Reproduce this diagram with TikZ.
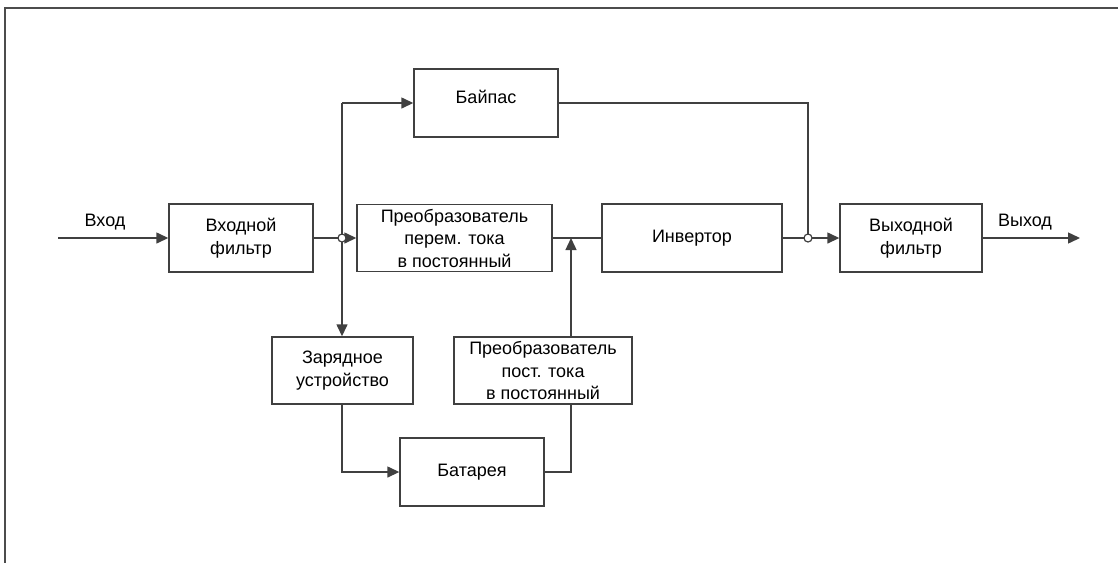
\documentclass[tikz,border=0pt]{standalone}
\usepackage{fontspec}
\setmainfont{Liberation Sans}
\usetikzlibrary{arrows.meta}
\begin{document}
\begin{tikzpicture}[x=1pt,y=-1pt,
  every node/.style={font=\fontsize{18}{22.5}\selectfont, text=black},
  blk/.style={draw=black!75, line width=1.4pt, rectangle, align=center, inner sep=0pt},
  wire/.style={draw=black!75, line width=1.4pt},
  arr/.style={wire, -{Triangle[length=12pt,width=11pt]}},
  jn/.style={circle, draw=black!75, fill=white, line width=1.2pt, minimum size=8pt, inner sep=0pt}]
\useasboundingbox (0,0) rectangle (1118,563);
\draw[draw=black!70, line width=1.5pt] (1118,8) -- (5,8) -- (5,563);
% blocks
\node[blk, minimum width=144pt, minimum height=68pt] (inf) at (241,238) {Входной\\фильтр};
\node[blk, minimum width=195pt, minimum height=67pt] (conv) at (454.5,238) {Преобразователь\\перем. тока\\в постоянный};
\node[blk, minimum width=180pt, minimum height=68pt] (inv) at (692,238) {Инвертор};
\node[blk, minimum width=142pt, minimum height=68pt] (outf) at (911,238) {Выходной\\фильтр};
\node[blk, minimum width=144pt, minimum height=68pt] (byp) at (486,103) {};
\node (bypt) at (486,97) {Байпас};
\node[blk, minimum width=141pt, minimum height=67pt] (chg) at (342.5,370.5) {Зарядное\\устройство};
\node[blk, minimum width=178pt, minimum height=67pt] (dcc) at (543,370.5) {Преобразователь\\пост. тока\\в постоянный};
\node[blk, minimum width=144pt, minimum height=68pt] (bat) at (472,472) {Батарея};
% labels
\node (lin) at (105,222) {Вход};
\node (lout) at (1025,222) {Выход};
% coordinates
\coordinate (inS) at (58,238);
\coordinate (outE) at (1080,238);
\coordinate (j1) at (342,238);
\coordinate (j2) at (808,238);
\coordinate (j3) at (571,238);
\coordinate (bypL) at (342,103);
\coordinate (bypR) at (808,103);
% wires
\draw[arr] (inS) -- (inf.west);
\draw[wire] (inf.east) -- (j1);
\draw[arr] (j1) -- (conv.west);
\draw[wire] (j1) -- (bypL);
\draw[arr] (bypL) -- (byp.west);
\draw[arr] (j1) -- (chg.north -| j1);
\draw[wire] (conv.east) -- (inv.west);
\draw[arr] (dcc.north -| j3) -- (j3);
\draw[arr] (chg.south -| j1) |- (bat.west);
\draw[wire] (bat.east) -| (dcc.south -| j3);
\draw[wire] (inv.east) -- (j2);
\draw[arr] (j2) -- (outf.west);
\draw[wire] (byp.east) -- (bypR) -- (j2);
\draw[arr] (outf.east) -- (outE);
\node[jn] (c1) at (j1) {};
\node[jn] (c2) at (j2) {};
\end{tikzpicture}
\end{document}
